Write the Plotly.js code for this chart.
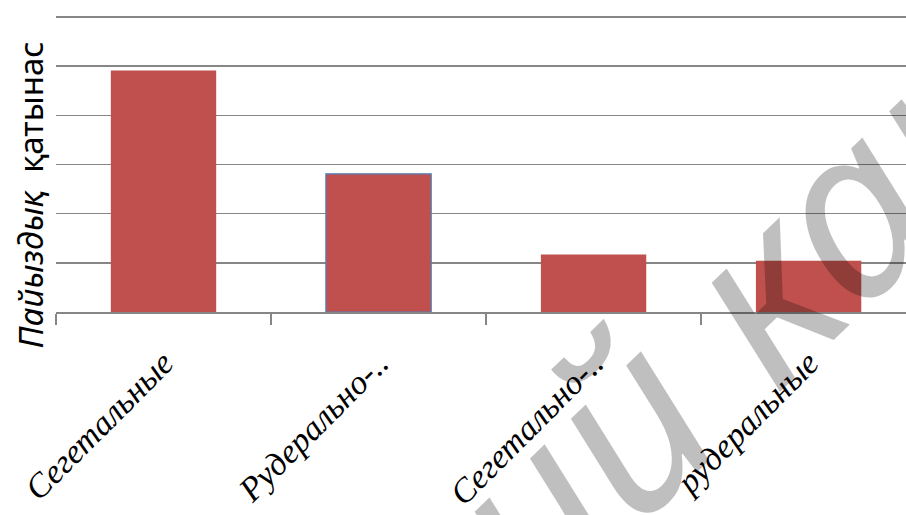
<!DOCTYPE html>
<html>
<head>
<meta charset="utf-8">
<script src="https://cdn.plot.ly/plotly-3.0.1.min.js"></script>
<style>html,body{margin:0;padding:0;background:#fff;}#chart{width:906px;height:515px;}</style>
</head>
<body>
<div id="chart"></div>
<script>
const categories = ["Сегетальные", "Рудерально-..", "Сегетально-..", "рудеральные"];
const values = [49.1, 28.1, 11.7, 10.4];
const yTitle = "<i>Пайыздық</i>  қатынас";
const watermark = "ий кар";

const trace = {
  type: "bar",
  x: categories,
  y: values,
  width: 0.49,
  marker: {
    color: "#c0504d",
    line: { color: ["#c0504d", "#4f81bd", "#c0504d", "#c0504d"], width: [0, 1.2, 0, 0] }
  },
  hoverinfo: "none"
};

const layout = {
  width: 906,
  height: 515,
  margin: { l: 56, r: 0, t: 7, b: 203, pad: 0 },
  paper_bgcolor: "#ffffff",
  plot_bgcolor: "#ffffff",
  showlegend: false,
  xaxis: {
    type: "category",
    range: [-0.5, 3.453],
    showgrid: false,
    zeroline: false,
    showline: true,
    linecolor: "#868686",
    linewidth: 1.5,
    ticks: "outside",
    tickson: "boundaries",
    ticklen: 11,
    tickwidth: 1.5,
    tickcolor: "#868686",
    tickangle: -45,
    ticklabelstandoff: 16,
    tickfont: { family: "Liberation Serif", size: 34, color: "#000000", style: "italic" }
  },
  yaxis: {
    range: [0, 62.03],
    dtick: 10,
    tick0: 0,
    showticklabels: false,
    ticks: "",
    showgrid: true,
    gridcolor: "#868686",
    gridwidth: 1.5,
    zeroline: false,
    showline: false
  },
  annotations: [
    {
      text: yTitle,
      xref: "paper", yref: "paper",
      x: -0.029, y: 0.384,
      xanchor: "center", yanchor: "middle",
      textangle: -90,
      showarrow: false,
      font: { family: "Noto Sans", size: 33, color: "#000000" }
    },
    {
      text: watermark,
      xref: "paper", yref: "paper",
      x: 0.795, y: 0.0,
      xanchor: "center", yanchor: "middle",
      textangle: -44,
      showarrow: false,
      font: { family: "Noto Sans", size: 235, color: "rgba(0,0,0,0.25)", style: "italic", weight: 400 }
    }
  ]
};

Plotly.newPlot("chart", [trace], layout, { staticPlot: true, displayModeBar: false });
</script>
</body>
</html>
